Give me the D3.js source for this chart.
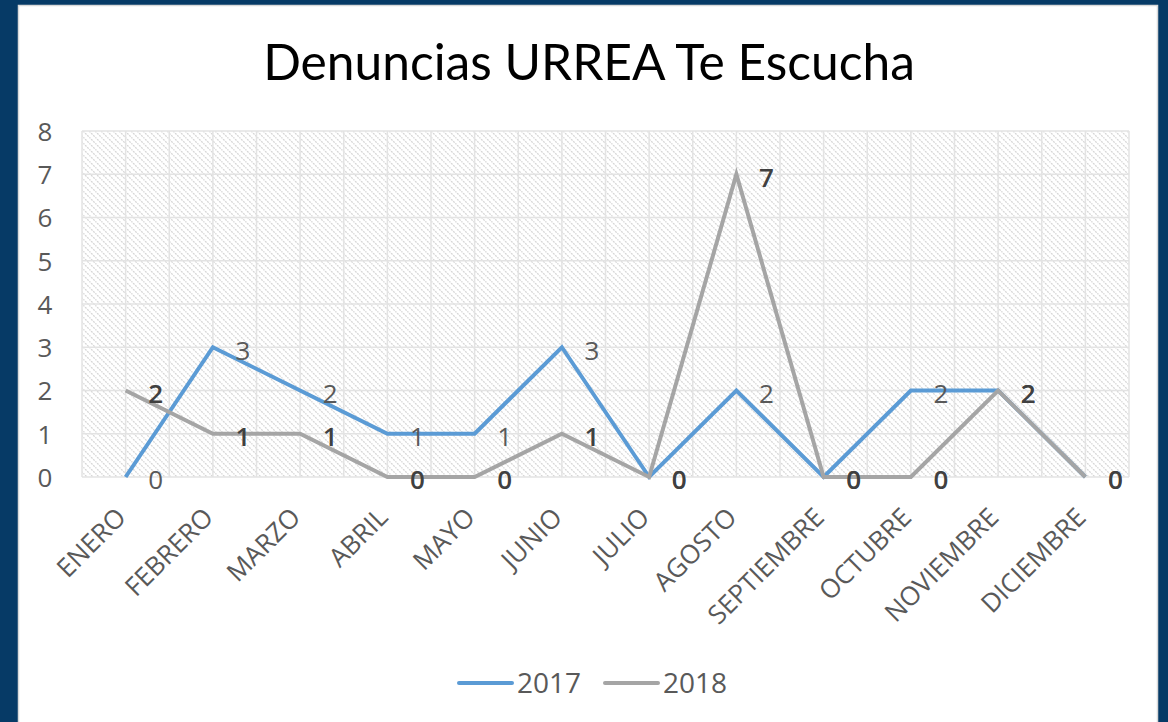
<!DOCTYPE html>
<html><head><meta charset="utf-8">
<script src="https://cdn.jsdelivr.net/npm/d3@7"></script>
<style>
html,body{margin:0;padding:0;background:#063a66;}
svg{display:block;}
</style></head>
<body>
<svg id="chart" width="1168" height="722"></svg>
<script>
const months = ["ENERO","FEBRERO","MARZO","ABRIL","MAYO","JUNIO","JULIO","AGOSTO","SEPTIEMBRE","OCTUBRE","NOVIEMBRE","DICIEMBRE"];
const values2017 = [0,3,2,1,1,3,0,2,0,2,2,0];
const values2018 = [2,1,1,0,0,1,0,7,0,0,2,0];
const yTicks = [0,1,2,3,4,5,6,7,8];
const seriesNames = ["2017","2018"];
const title = "Denuncias URREA Te Escucha";

const svg = d3.select("#chart");
const W = 1168, H = 722;
const font = "'Open Sans', sans-serif";

svg.append("rect").attr("width",W).attr("height",H).attr("fill","#063a66");
svg.append("rect").attr("x",18.5).attr("y",5.5).attr("width",1139).attr("height",730)
  .attr("fill","#ffffff").attr("stroke","#d9d9d9").attr("stroke-width",1.5);

const defs = svg.append("defs");
const pat = defs.append("pattern").attr("id","hatch").attr("patternUnits","userSpaceOnUse")
  .attr("width",6).attr("height",6);
pat.append("rect").attr("width",6).attr("height",6).attr("fill","#ffffff");
pat.append("path").attr("d","M-1,-1 L7,7 M-1,5 L1,7 M5,-1 L7,1")
  .attr("stroke","#d6d6d6").attr("stroke-width",1.3).attr("stroke-dasharray","2,1");

const m = {left:82, right:1129, top:131, bottom:477};
const x = d3.scaleBand().domain(months).range([m.left,m.right]);
const y = d3.scaleLinear().domain([0,8]).range([m.bottom,m.top]);

// title, sized to span the same width as the reference
const tt = svg.append("text").attr("x",589).attr("y",80).attr("text-anchor","middle")
  .attr("font-family","Lato, 'Open Sans', sans-serif").attr("font-size",50).attr("fill","#000")
  .text(title);
const tw = tt.node().getComputedTextLength();
tt.attr("font-size", 50*652/tw);

// plot area
svg.append("rect").attr("x",m.left).attr("y",m.top).attr("width",m.right-m.left).attr("height",m.bottom-m.top)
  .attr("fill","url(#hatch)");

const grid = svg.append("g").attr("stroke","#e3e3e3").attr("stroke-width",1.5);
yTicks.forEach(t=>{
  grid.append("line").attr("x1",m.left).attr("x2",m.right).attr("y1",y(t)).attr("y2",y(t));
});
months.forEach((mo,i)=>{
  const x0 = x(mo);
  grid.append("line").attr("x1",x0).attr("x2",x0).attr("y1",m.top).attr("y2",m.bottom);
  grid.append("line").attr("x1",x0+x.bandwidth()/2).attr("x2",x0+x.bandwidth()/2).attr("y1",m.top).attr("y2",m.bottom);
});
grid.append("line").attr("x1",m.right).attr("x2",m.right).attr("y1",m.top).attr("y2",m.bottom);

// y axis labels
const yAxis = d3.axisLeft(y).tickValues(yTicks).tickSize(0).tickPadding(0).tickFormat(d3.format("d"));
const ya = svg.append("g").attr("transform","translate(54,0)").call(yAxis);
ya.select(".domain").remove();
ya.selectAll("text").attr("font-family",font).attr("font-size",26).attr("fill","#595959").attr("text-anchor","middle").attr("x",-9).attr("dy","0.36em");

// x axis labels
const xAxis = d3.axisBottom(x).tickSize(0).tickPadding(0);
const xa = svg.append("g").attr("transform",`translate(0,${m.bottom})`).call(xAxis);
xa.select(".domain").remove();
xa.selectAll("text").attr("font-family",font).attr("font-size",26).attr("fill","#595959")
  .attr("text-anchor","end").attr("y",0).attr("dy",0)
  .attr("transform","translate(2,42) rotate(-45)");

const cx = d => x(d) + x.bandwidth()/2;
const line = d3.line().x(d=>cx(d.m)).y(d=>y(d.v));
const series = [
  {name:seriesNames[0], vals:values2017, color:"#5b9bd5", lc:"#595959", fw:400},
  {name:seriesNames[1], vals:values2018, color:"#a5a5a5", lc:"#404040", fw:600}
];
series.forEach(s=>{
  const data = s.vals.map((v,i)=>({m:months[i], v}));
  svg.append("path").datum(data).attr("d",line).attr("fill","none")
    .attr("stroke",s.color).attr("stroke-width",4).attr("stroke-linejoin","miter");
});
series.forEach(s=>{
  const data = s.vals.map((v,i)=>({m:months[i], v}));
  svg.append("g").selectAll("text").data(data).join("text")
    .attr("x",d=>cx(d.m)+30).attr("y",d=>y(d.v)+3).attr("dy","0.36em")
    .attr("text-anchor","middle").attr("font-family",font).attr("font-size",26)
    .attr("font-weight",s.fw).attr("fill",s.lc).text(d=>d.v);
});

// legend
const lg = svg.append("g").attr("font-family",font).attr("font-size",28).attr("fill","#595959");
const legendPos = [459, 605];
series.forEach((s,i)=>{
  lg.append("line").attr("x1",legendPos[i]).attr("x2",legendPos[i]+53).attr("y1",683).attr("y2",683)
    .attr("stroke",s.color).attr("stroke-width",4).attr("stroke-linecap","round");
  lg.append("text").attr("x",legendPos[i]+58).attr("y",683).attr("dy","0.36em").text(s.name);
});
</script>
</body></html>
